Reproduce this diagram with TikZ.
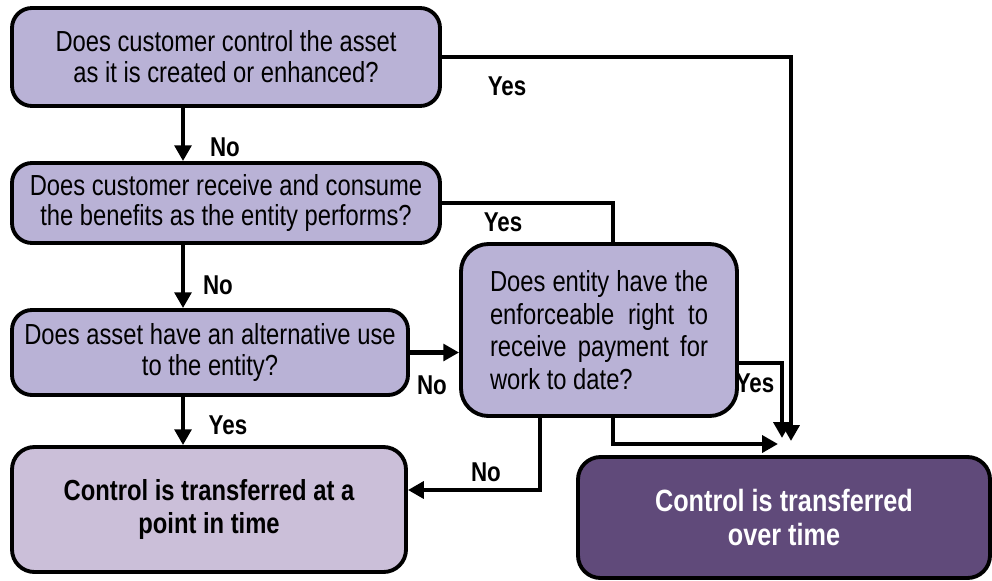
\documentclass[tikz,border=0pt]{standalone}
\usepackage{fontspec}
\setmainfont{Liberation Sans}[FakeStretch=0.82]
\usetikzlibrary{arrows.meta,backgrounds}
\definecolor{qfill}{RGB}{185,178,214}
\definecolor{pfill}{RGB}{203,191,217}
\definecolor{tfill}{RGB}{96,74,122}

\begin{document}
\begin{tikzpicture}[
    qbox/.style={draw,line width=2.2pt,rounded corners=0.4cm,fill=qfill,align=center,inner sep=0pt,
      font=\fontsize{16.5}{17.5}\selectfont},
    endbox/.style={draw,line width=2.2pt,rounded corners=0.45cm,align=center,inner sep=0pt,
      font=\fontsize{16.5}{19}\selectfont\bfseries},
    arr/.style={line width=2.3pt,-{Triangle[length=9pt,width=9.5pt]}},
    lbl/.style={font=\fontsize{15.5}{16}\selectfont\bfseries}]
  \useasboundingbox (0,0) rectangle (19.84,-11.6);
  \node[qbox,minimum width=8.56cm,minimum height=1.96cm] (own) at (4.52,-1.14)
    {Does customer control the asset\\as it is created or enhanced?};
  \node[qbox,minimum width=8.56cm,minimum height=1.6cm] (cons) at (4.52,-4.06)
    {Does customer receive and consume\\the benefits as the entity performs?};
  \node[qbox,minimum width=7.92cm,minimum height=1.7cm] (alt) at (4.2,-7.05)
    {Does asset have an alternative use\\to the entity?};
  \node[endbox,fill=pfill,minimum width=7.88cm,minimum height=2.5cm] (pit) at (4.18,-10.19)
    {Control is transferred at a\\point in time};
  \node[qbox,rounded corners=0.55cm,align=justify,text width=4.36cm,inner xsep=0.58cm,
    minimum height=3.44cm,font=\fontsize{16.5}{18.6}\selectfont] (pay) at (11.98,-6.6)
    {Does entity have the\linebreak enforceable right to\linebreak receive payment for\linebreak work to date?};
  \node[endbox,fill=tfill,text=white,minimum width=8.24cm,minimum height=2.42cm,
    font=\fontsize{17.5}{19.5}\selectfont\bfseries] (otime) at (15.68,-10.35)
    {Control is transferred\\over time};
  \coordinate (spine) at (3.66,0);
  \coordinate (join) at (15.7,-8.82);
  \begin{scope}[on background layer]
    \draw[arr] (own.south -| spine) -- (cons.north -| spine);
    \draw[arr] (cons.south -| spine) -- (alt.north -| spine);
    \draw[arr] (alt.south -| spine) -- (pit.north -| spine);
    \draw[arr] (alt.east) -- (alt.east -| pay.west);
    \draw[arr] (own.east) -| ([xshift=1.2mm]join);
    \draw[arr] (cons.east) -| ([xshift=-3.44cm,yshift=-0.06cm]join) -- ([xshift=-1.4mm,yshift=-0.06cm]join);
    \draw[arr] ([yshift=-0.66cm]pay.east) -| ([xshift=-0.6mm,yshift=0.06cm]join);
    \draw[arr] ([xshift=-1.18cm]pay.south) |- ([yshift=0.39cm]pit.east);
  \end{scope}
  \node[lbl] (no1) at (4.5,-2.94) {No};
  \node[lbl] (yes1) at (10.14,-1.72) {Yes};
  \node[lbl] (yes2) at (10.06,-4.44) {Yes};
  \node[lbl] (no2) at (4.36,-5.7) {No};
  \node[lbl] (no3) at (8.64,-7.7) {No};
  \node[lbl] (yes3) at (4.56,-8.5) {Yes};
  \node[lbl] (yes4) at (15.1,-7.66) {Yes};
  \node[lbl] (no4) at (9.72,-9.44) {No};
\end{tikzpicture}
\end{document}
